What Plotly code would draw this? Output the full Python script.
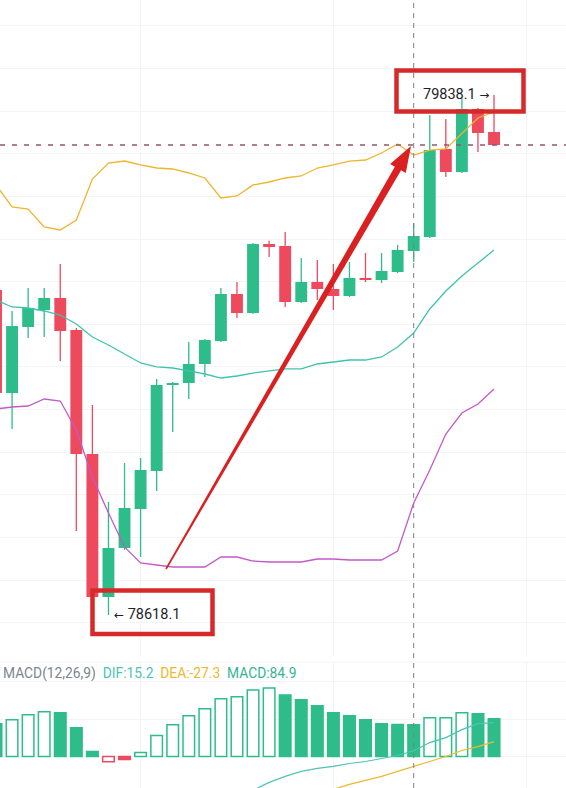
import math
import plotly.graph_objects as go
from plotly.subplots import make_subplots

W, H = 566, 788

# candles (price)
opens = [79380.4, 79138.8, 79293.6, 79333.5, 79361.7, 79286.6, 78995.8, 78660.3, 78775.3, 78866.7,
         78955.9, 79157.6, 79162.3, 79206.9, 79260.8, 79371.1, 79326.5, 79488.3, 79483.6, 79352.3,
         79399.2, 79382.8, 79366.4, 79408.6, 79403.9, 79422.7, 79471.9, 79504.8, 79711.2, 79657.2,
         79805.0, 79751.1]
highs = [79392.2, 79331.2, 79385.1, 79385.1, 79441.4, 79291.3, 79110.7, 78883.2, 78974.6, 78986.4,
         79171.7, 79164.7, 79258.5, 79265.5, 79385.1, 79399.2, 79490.7, 79495.7, 79516.5, 79455.5,
         79450.8, 79441.4, 79446.1, 79467.2, 79467.2, 79486.0, 79537.6, 79790.9, 79781.6, 79830.8,
         79807.4, 79838.1]
lows = [79127.1, 79054.4, 79267.9, 79270.2, 79213.9, 78815.1, 78658.0, 78618.1, 78770.7, 78754.1,
        78909.0, 79047.4, 79124.8, 79176.4, 79258.5, 79314.8, 79324.2, 79457.9, 79340.6, 79349.9,
        79357.0, 79333.5, 79364.1, 79399.2, 79396.9, 79420.3, 79446.1, 79502.4, 79645.5, 79654.9,
        79704.2, 79718.3]
closes = [79138.8, 79296.0, 79338.2, 79361.7, 79284.3, 78995.8, 78660.3, 78775.3, 78869.1, 78958.2,
          79157.6, 79162.3, 79206.9, 79263.2, 79371.1, 79326.5, 79488.3, 79481.3, 79352.3, 79399.2,
          79382.8, 79366.4, 79408.6, 79403.9, 79425.0, 79474.3, 79507.1, 79708.8, 79657.2, 79805.0,
          79748.7, 79720.6]

# bollinger bands
boll_up = [79626.8, 79575.2, 79570.4, 79528.3, 79521.2, 79544.6, 79640.8, 79678.3, 79683.0, 79673.7,
           79666.6, 79664.3, 79654.9, 79643.2, 79596.3, 79601.0, 79626.8, 79633.8, 79643.2, 79647.9,
           79666.6, 79673.7, 79683.0, 79685.4, 79701.8, 79722.9, 79697.1, 79708.8, 79711.2, 79748.7,
           79783.9, 79798.0]
boll_mid = [79357.0, 79340.6, 79338.2, 79331.2, 79321.8, 79300.7, 79270.2, 79251.5, 79230.4, 79209.2,
            79199.9, 79197.5, 79190.5, 79183.4, 79174.0, 79178.7, 79185.7, 79190.5, 79195.2, 79195.2,
            79206.9, 79211.6, 79216.2, 79216.2, 79223.3, 79246.7, 79279.6, 79335.9, 79378.1, 79413.3,
            79443.8, 79474.3]
boll_dn = [79101.3, 79106.0, 79108.3, 79124.8, 79120.1, 79052.0, 78941.8, 78857.4, 78777.6, 78740.1,
           78735.4, 78730.7, 78730.7, 78730.7, 78754.1, 78754.1, 78744.7, 78742.4, 78742.4, 78742.4,
           78749.4, 78749.4, 78747.1, 78747.1, 78747.1, 78768.2, 78880.8, 78958.2, 79042.7, 79091.9,
           79113.0, 79148.2]

# MACD(12,26,9)
macd_hist = [87.5, 98.1, 111.3, 119.3, 116.6, 76.9, 13.3, -14.0, -8.0, 10.6,
             55.7, 84.8, 108.7, 127.2, 153.7, 159.0, 177.6, 182.9, 164.3, 151.1,
             135.2, 116.6, 108.7, 98.1, 87.5, 85.0, 84.9, 103.4, 103.6, 116.6,
             114.0, 100.7]
dif = [None] * 16 + [-90.1, -68.9, -53.0, -39.8, -31.8, -26.5, -18.6, -13.3, -5.3, 2.7,
                     15.2, 37.1, 50.4, 71.6, 87.5, 90.1]
dea = [None] * 20 + [-103.4, -87.5, -74.2, -63.6, -53.0, -39.8, -27.3, -13.3, 0.0, 15.9,
                     26.5, 39.8]

hi_label = "79838.1"
lo_label = "78618.1"
cursor = 26  # crosshair candle

GREEN = "#2ebd8a"
RED = "#ee4a5d"
GRID = "#f3f4f6"
ARROW_SPAN = "<span style='font-family:DejaVu Sans;font-size:12px'>{}</span>"

idx = list(range(len(closes)))
up = [c >= o for o, c in zip(opens, closes)]


def px(x):
    return x / W


def py(y):
    return 1 - y / H


fig = make_subplots(rows=2, cols=1, shared_xaxes=True)

# candle bodies
fig.add_trace(go.Bar(
    x=idx,
    y=[max(abs(c - o), 2.5) for o, c in zip(opens, closes)],
    base=[min(o, c) for o, c in zip(opens, closes)],
    width=0.74,
    marker=dict(color=[GREEN if u else RED for u in up], line=dict(width=0)),
), row=1, col=1)

# wicks
for flag, col in [(True, GREEN), (False, RED)]:
    wx, wy = [], []
    for i in idx:
        if up[i] == flag:
            wx += [i, i, None]
            wy += [lows[i], highs[i], None]
    fig.add_trace(go.Scatter(x=wx, y=wy, mode="lines",
                             line=dict(color=col, width=1.3)), row=1, col=1)

# bands
for vals, col in [(boll_up, "#eeb52e"), (boll_mid, "#3fc3ae"), (boll_dn, "#c35ac6")]:
    fig.add_trace(go.Scatter(x=idx, y=vals, mode="lines",
                             line=dict(color=col, width=1.3)), row=1, col=1)

# MACD histogram
hollow = [False] + [abs(macd_hist[i]) >= abs(macd_hist[i - 1]) for i in idx[1:]]
hcol = [GREEN if v >= 0 else RED for v in macd_hist]
fig.add_trace(go.Bar(
    x=idx, y=macd_hist, width=0.72,
    marker=dict(color=["white" if h else c for h, c in zip(hollow, hcol)],
                line=dict(color=hcol, width=1.5)),
), row=2, col=1)
fig.add_trace(go.Scatter(x=idx, y=dif, mode="lines",
                         line=dict(color="#4cc4b6", width=1.2)), row=2, col=1)
fig.add_trace(go.Scatter(x=idx, y=dea, mode="lines",
                         line=dict(color="#efb82c", width=1.2)), row=2, col=1)

fig.update_layout(
    width=W, height=H,
    margin=dict(l=0, r=0, t=0, b=0),
    paper_bgcolor="white", plot_bgcolor="white",
    showlegend=False, barmode="overlay", hovermode=False,
    font=dict(family="Roboto", color="#1e2329"),
    yaxis=dict(domain=[py(656), 1], range=[78521.9, 80060.7], tick0=80000, dtick=100),
    yaxis2=dict(domain=[0, py(662)], range=[-84, 252], tick0=0, dtick=100),
)
fig.update_xaxes(range=[0.249, 35.48], showticklabels=False, ticks="", showgrid=True,
                 gridcolor=GRID, tick0=9, dtick=12, zeroline=False, showline=False)
fig.update_yaxes(showticklabels=False, ticks="", showgrid=True, gridcolor=GRID,
                 zeroline=False, showline=False)

shapes = []
# MACD pane top border
shapes.append(dict(type="line", xref="paper", yref="paper", x0=0, x1=1,
                   y0=py(662), y1=py(662), line=dict(color=GRID, width=1), layer="below"))
# last price line
shapes.append(dict(type="line", xref="paper", yref="y", x0=0, x1=1,
                   y0=closes[-1], y1=closes[-1],
                   line=dict(color="#94566a", width=1.5, dash="5px,7px")))
# crosshair
shapes.append(dict(type="line", xref="x", yref="paper", x0=cursor, x1=cursor, y0=0, y1=1,
                   line=dict(color="#808080", width=1, dash="5px,5px")))
# red boxes
for x0, y0, x1, y1 in [(92.5, 590.5, 212.5, 634), (396.5, 70.5, 523.5, 111.5)]:
    shapes.append(dict(type="rect", xref="paper", yref="paper",
                       x0=px(x0), x1=px(x1), y0=py(y0), y1=py(y1),
                       line=dict(color="#d62a2a", width=4.5)))

# tapered red arrow
tx, ty = 166, 569
hx, hy = 411, 146
L = math.hypot(hx - tx, hy - ty)
ux, uy = (hx - tx) / L, (hy - ty) / L
nx, ny = -uy, ux
hl, hw = 26, 9
bx, by = hx - ux * hl, hy - uy * hl
pts = [(tx + nx * 0.8, ty + ny * 0.8), (bx + nx * 3.6, by + ny * 3.6), (bx + nx * hw, by + ny * hw),
       (hx, hy), (bx - nx * hw, by - ny * hw), (bx - nx * 3.6, by - ny * 3.6),
       (tx - nx * 0.8, ty - ny * 0.8)]
path = "M " + " L ".join(f"{px(a):.5f},{py(b):.5f}" for a, b in pts) + " Z"
shapes.append(dict(type="path", xref="paper", yref="paper", path=path,
                   fillcolor="#da2020", line=dict(width=0)))
fig.update_layout(shapes=shapes)

ann = [
    dict(x=len(idx) - 1, y=max(highs), xref="x", yref="y",
         text=hi_label + " " + ARROW_SPAN.format("→"),
         showarrow=False, xanchor="right", yanchor="middle", xshift=-3,
         font=dict(size=14.5, color="#1e2329")),
    dict(x=lows.index(min(lows)), y=min(lows), xref="x", yref="y",
         text=ARROW_SPAN.format("←") + " " + lo_label,
         showarrow=False, xanchor="left", yanchor="middle", xshift=4,
         font=dict(size=14.5, color="#1e2329")),
    dict(x=px(1), y=py(673), xref="paper", yref="paper", xanchor="left", yanchor="middle",
         showarrow=False, font=dict(size=13.8),
         text=("<span style='color:#7d8590'>MACD(12,26,9)</span>&nbsp;&nbsp;"
               f"<span style='color:#4cc4b6'>DIF:{dif[cursor]}</span>&nbsp;&nbsp;"
               f"<span style='color:#efb82c'>DEA:{dea[cursor]}</span>&nbsp;&nbsp;"
               f"<span style='color:#36b493'>MACD:{macd_hist[cursor]}</span>")),
]
fig.update_layout(annotations=ann)

fig.write_html("out.html", config={"displayModeBar": False},
               post_script="document.body.style.margin='0';")
